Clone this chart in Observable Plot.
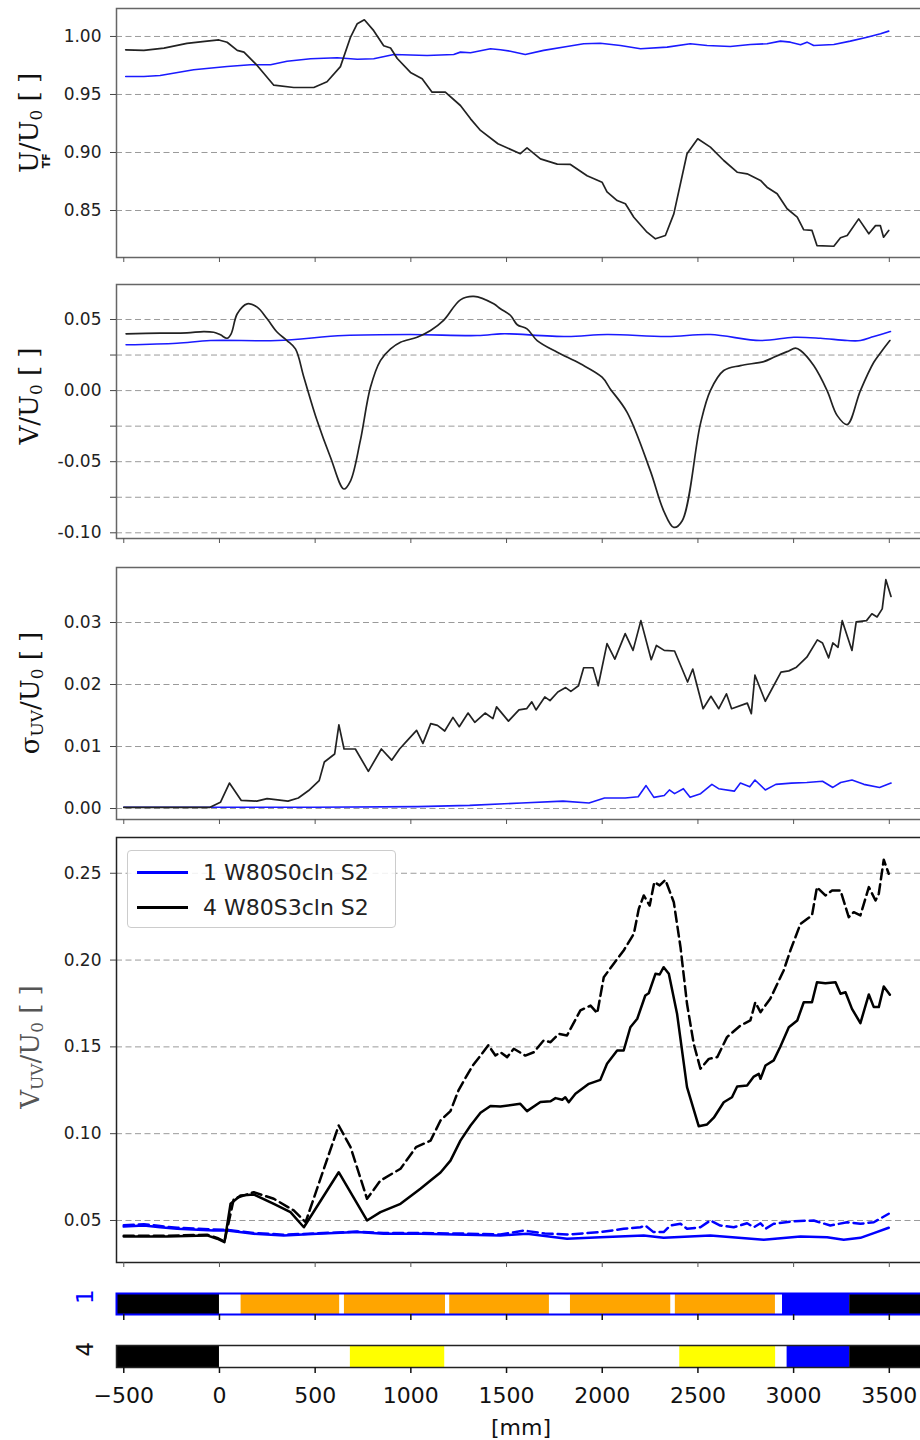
<!DOCTYPE html>
<html><head><meta charset="utf-8">
<script src="https://cdn.jsdelivr.net/npm/d3@7"></script>
<script src="https://cdn.jsdelivr.net/npm/@observablehq/plot@0.6"></script>
<style>
body{margin:0;background:#fff;}
#wrap{position:relative;width:920px;height:1440px;overflow:hidden;font-family:"DejaVu Sans",sans-serif;background:#fff;}
#wrap svg{position:absolute;left:0;max-width:none !important;}
.ylab{position:absolute;transform:translate(-50%,-50%) rotate(-90deg);white-space:nowrap;font-family:"DejaVu Serif",serif;font-size:26px;line-height:26px;color:#111;z-index:2;}
.ylab sub{font-size:0.65em;vertical-align:-0.22em;line-height:0;}
.tf{display:inline-block;width:0;position:relative;left:-17px;top:12px;font-family:"DejaVu Sans",sans-serif;font-weight:bold;font-size:11px;line-height:11px;}
.legend{position:absolute;left:127px;top:850px;width:269px;height:78px;border:1px solid #ccc;border-radius:4px;background:rgba(255,255,255,0.85);box-sizing:border-box;z-index:3;}
.legend .sw{position:absolute;left:9px;width:51px;height:3px;}
.legend .tx{position:absolute;left:75px;font-family:"DejaVu Sans",sans-serif;font-size:22px;line-height:22px;color:#222;white-space:nowrap;}
.mm{position:absolute;left:521px;top:1427px;transform:translate(-50%,-50%);font-family:"DejaVu Sans",sans-serif;font-size:22px;color:#111;}
</style></head>
<body><div id="wrap"></div>
<script>
// ---------- data ----------
const xTicks = [-500,0,500,1000,1500,2000,2500,3000,3500];

// Panel 1: U/U0
const uBlue = [[-490,0.9655],[-395,0.9655],[-310,0.9664],[-135,0.9713],[40,0.9741],[162,0.9756],[267,0.9756],[353,0.9787],[476,0.9808],[615,0.9816],[720,0.9804],[806,0.9808],[911,0.9845],[1085,0.9836],[1224,0.9845],[1259,0.9865],[1312,0.986],[1416,0.9894],[1468,0.9885],[1520,0.9873],[1598,0.9845],[1694,0.988],[1816,0.9914],[1903,0.9937],[1990,0.9942],[2095,0.9922],[2200,0.9894],[2339,0.9908],[2460,0.9937],[2548,0.9922],[2669,0.9914],[2774,0.9931],[2861,0.9937],[2931,0.996],[2983,0.9951],[3036,0.9928],[3070,0.9951],[3105,0.9922],[3210,0.9931],[3296,0.996],[3384,0.9994],[3454,1.0023],[3497,1.0046]];
const uBlack = [[-490,0.9885],[-395,0.988],[-290,0.990],[-170,0.994],[-65,0.996],[-3,0.997],[40,0.995],[93,0.988],[128,0.9865],[197,0.975],[284,0.958],[388,0.956],[493,0.956],[562,0.961],[632,0.974],[685,0.9995],[720,1.011],[757,1.0144],[806,1.005],[858,0.992],[894,0.990],[929,0.981],[998,0.969],[1059,0.9635],[1111,0.952],[1180,0.952],[1259,0.9405],[1312,0.929],[1364,0.919],[1455,0.9075],[1572,0.899],[1607,0.904],[1677,0.8945],[1765,0.890],[1834,0.8897],[1921,0.880],[1999,0.8744],[2025,0.866],[2078,0.8586],[2121,0.8558],[2165,0.8442],[2234,0.8313],[2278,0.8256],[2330,0.8285],[2374,0.8471],[2443,0.8989],[2499,0.9118],[2565,0.9046],[2635,0.8931],[2705,0.883],[2757,0.8816],[2827,0.8759],[2861,0.8701],[2914,0.8644],[2966,0.8515],[3019,0.8443],[3053,0.8334],[3096,0.8328],[3122,0.8198],[3210,0.8192],[3245,0.8265],[3280,0.8285],[3340,0.8428],[3393,0.8299],[3428,0.837],[3453,0.837],[3470,0.827],[3497,0.8328]];
const uTicks = [0.85,0.90,0.95,1.00];

// Panel 2: V/U0
const vBlue = [[-488,0.0322],[-222,0.0333],[-47,0.0352],[302,0.0352],[650,0.0387],[998,0.0394],[1347,0.0387],[1468,0.0399],[1520,0.0399],[1816,0.038],[2025,0.0394],[2339,0.038],[2565,0.0394],[2827,0.0352],[3001,0.0375],[3140,0.0368],[3280,0.0352],[3349,0.0352],[3419,0.038],[3506,0.0415]];
const vBlack = [[-488,0.0399],[-310,0.0404],[-170,0.0406],[-82,0.0415],[-30,0.041],[5,0.0392],[40,0.0368],[61,0.0399],[93,0.054],[145,0.061],[197,0.0587],[249,0.0505],[302,0.041],[353,0.0352],[397,0.0293],[441,0.0094],[510,-0.0211],[580,-0.0469],[650,-0.0692],[685,-0.0634],[736,-0.0352],[789,0.0023],[841,0.0211],[894,0.0293],[946,0.034],[1033,0.0375],[1103,0.0422],[1171,0.0493],[1259,0.0638],[1329,0.0662],[1433,0.061],[1468,0.0575],[1521,0.0528],[1556,0.0463],[1607,0.0434],[1660,0.0352],[1765,0.027],[1886,0.0188],[1999,0.0094],[2042,0.0012],[2130,-0.0153],[2251,-0.0563],[2321,-0.0845],[2374,-0.0962],[2418,-0.0915],[2513,-0.0234],[2565,0.0],[2635,0.0141],[2722,0.0176],[2844,0.0204],[2896,0.0234],[2966,0.0274],[3010,0.0298],[3036,0.0282],[3105,0.0176],[3175,0.0],[3228,-0.0176],[3280,-0.0239],[3349,0.0],[3419,0.0199],[3463,0.0282],[3503,0.0352]];
const vTicks = [-0.10,-0.075,-0.05,-0.025,0,0.025,0.05];

// Panel 3: sigma_UV/U0
const sBlue = [[-500,0.0002],[493,0.0002],[1036,0.0003],[1307,0.0005],[1578,0.0009],[1795,0.0012],[1931,0.0009],[2012,0.0017],[2120,0.0017],[2188,0.0019],[2229,0.0037],[2270,0.0018],[2324,0.0021],[2351,0.003],[2378,0.0024],[2424,0.0032],[2459,0.0018],[2514,0.0024],[2573,0.0039],[2608,0.0032],[2690,0.0028],[2722,0.0041],[2771,0.0035],[2798,0.0046],[2852,0.003],[2907,0.0039],[2988,0.0041],[3069,0.0042],[3151,0.0044],[3205,0.0034],[3246,0.0042],[3305,0.0046],[3367,0.0039],[3449,0.0034],[3509,0.0041]];
const sBlack = [[-500,0.0002],[-49,0.0002],[5,0.001],[52,0.0041],[114,0.0013],[195,0.0012],[249,0.0016],[304,0.0014],[358,0.0012],[412,0.0017],[466,0.0029],[521,0.0045],[548,0.0075],[602,0.0088],[624,0.0135],[651,0.0096],[710,0.0096],[778,0.006],[846,0.0096],[900,0.0078],[941,0.0096],[982,0.011],[1030,0.0126],[1063,0.0105],[1104,0.0137],[1139,0.0134],[1177,0.0125],[1220,0.0147],[1253,0.0132],[1299,0.0154],[1334,0.0139],[1388,0.0154],[1429,0.0145],[1448,0.0164],[1510,0.0141],[1565,0.0159],[1605,0.0161],[1632,0.0172],[1654,0.0159],[1700,0.018],[1727,0.0174],[1768,0.0188],[1809,0.0195],[1836,0.0189],[1876,0.0198],[1903,0.0227],[1952,0.0227],[1979,0.0198],[2025,0.0266],[2066,0.0241],[2120,0.0282],[2161,0.0255],[2202,0.0303],[2256,0.024],[2283,0.0263],[2324,0.0255],[2378,0.0254],[2446,0.0204],[2473,0.0225],[2527,0.0161],[2568,0.0181],[2609,0.0161],[2649,0.0185],[2676,0.0161],[2758,0.017],[2779,0.0153],[2798,0.0215],[2852,0.0173],[2934,0.022],[2975,0.0222],[3015,0.0228],[3069,0.0244],[3124,0.0272],[3151,0.0267],[3183,0.0243],[3205,0.0267],[3232,0.026],[3254,0.0303],[3305,0.0255],[3327,0.0301],[3381,0.0303],[3409,0.0314],[3436,0.0309],[3463,0.0322],[3482,0.0369],[3509,0.0342]];
const sTicks = [0,0.01,0.02,0.03];

// Panel 4: V_UV/U0 (solid and dashed)
const wBlueSolid = [[-500,0.0465],[-395,0.0471],[-310,0.0461],[-221,0.0452],[-30,0.0442],[40,0.0442],[179,0.0423],[336,0.0414],[511,0.0423],[720,0.0433],[858,0.0423],[1050,0.0423],[1468,0.0414],[1607,0.0423],[1816,0.0395],[1990,0.0404],[2217,0.0414],[2321,0.040],[2565,0.0414],[2844,0.0389],[3036,0.0408],[3175,0.0404],[3262,0.0389],[3349,0.040],[3419,0.0427],[3497,0.0458]];
const wBlueDash = [[-500,0.0472],[-395,0.0478],[-310,0.0468],[-221,0.0458],[-30,0.0448],[40,0.0446],[179,0.0428],[336,0.0418],[511,0.0426],[720,0.0436],[858,0.0428],[1050,0.0428],[1300,0.0424],[1468,0.0419],[1590,0.0442],[1700,0.0425],[1816,0.0419],[1990,0.0433],[2112,0.0452],[2200,0.0461],[2225,0.0471],[2268,0.0433],[2321,0.0433],[2356,0.0471],[2409,0.0481],[2443,0.0452],[2513,0.0461],[2565,0.050],[2617,0.0471],[2687,0.0461],[2757,0.0484],[2792,0.0461],[2827,0.0484],[2853,0.0452],[2896,0.0481],[3001,0.0496],[3105,0.050],[3192,0.0471],[3280,0.049],[3349,0.0481],[3419,0.049],[3497,0.0539]];
const wBlackSolid = [[-500,0.0408],[-274,0.0408],[-65,0.0414],[-12,0.0395],[26,0.0375],[58,0.0596],[110,0.0644],[179,0.065],[284,0.0596],[371,0.0548],[441,0.0461],[623,0.0778],[771,0.050],[841,0.0548],[946,0.0596],[1050,0.0683],[1103,0.073],[1155,0.0776],[1207,0.0845],[1259,0.096],[1312,0.1047],[1364,0.112],[1416,0.116],[1468,0.1157],[1572,0.1172],[1607,0.113],[1677,0.1182],[1730,0.1187],[1756,0.1205],[1791,0.1195],[1807,0.121],[1825,0.1181],[1860,0.123],[1930,0.1287],[1990,0.131],[2025,0.1403],[2078,0.1479],[2112,0.1479],[2147,0.1613],[2183,0.1662],[2225,0.1796],[2243,0.1809],[2278,0.1921],[2300,0.1917],[2321,0.1959],[2348,0.1921],[2391,0.1691],[2443,0.1268],[2504,0.1043],[2548,0.1053],[2583,0.1092],[2635,0.1181],[2678,0.121],[2705,0.1272],[2757,0.1278],[2792,0.1329],[2818,0.1345],[2827,0.1316],[2853,0.1393],[2896,0.1422],[2931,0.1502],[2975,0.1613],[3019,0.1652],[3053,0.1757],[3096,0.1757],[3122,0.1872],[3166,0.1867],[3219,0.1872],[3245,0.1806],[3271,0.1815],[3305,0.1719],[3349,0.1637],[3393,0.1802],[3419,0.1729],[3445,0.1729],[3471,0.1848],[3503,0.18]];
const wBlackDash = [[-500,0.0412],[-274,0.0412],[-65,0.0418],[-12,0.040],[26,0.0378],[75,0.0625],[179,0.0663],[284,0.0625],[388,0.0558],[450,0.049],[623,0.1047],[685,0.0922],[771,0.0625],[841,0.073],[946,0.0798],[1027,0.0922],[1103,0.096],[1155,0.1076],[1207,0.113],[1249,0.125],[1285,0.132],[1322,0.139],[1364,0.145],[1405,0.151],[1442,0.145],[1468,0.1469],[1503,0.1441],[1538,0.1489],[1598,0.145],[1642,0.1469],[1694,0.1537],[1730,0.1527],[1773,0.1575],[1816,0.1566],[1886,0.171],[1939,0.1738],[1974,0.1694],[2008,0.1901],[2060,0.1979],[2112,0.2055],[2165,0.2151],[2191,0.2295],[2217,0.2372],[2248,0.2314],[2272,0.2449],[2300,0.243],[2330,0.2462],[2374,0.2333],[2409,0.2074],[2443,0.1748],[2478,0.1518],[2513,0.1374],[2557,0.1431],[2601,0.1441],[2652,0.1556],[2722,0.1623],[2774,0.1652],[2800,0.1757],[2827,0.17],[2878,0.1777],[2948,0.194],[2983,0.2055],[3036,0.2209],[3096,0.2257],[3122,0.242],[3166,0.2372],[3201,0.2401],[3245,0.2401],[3288,0.2247],[3314,0.2276],[3349,0.2257],[3393,0.242],[3428,0.2343],[3445,0.2382],[3471,0.2578],[3497,0.2497]];
const wTicks = [0.05,0.10,0.15,0.20,0.25];

// Condition bars
const bar1Start = [-538,113,653,1203,1834,2382,2942,3293];
const bar1End   = [0,628,1181,1724,2358,2905,3293,3900];
const bar1Color = ["black","orange","orange","orange","orange","orange","blue","black"];
const bar4Start = [-538,684,2405,2966,3293];
const bar4End   = [0,1177,2906,3293,3900];
const bar4Color = ["black","yellow","yellow","blue","black"];

const seriesNames = ["1 W80S0cln S2","4 W80S3cln S2"];

// ---------- drawing ----------
const wrap = document.getElementById("wrap");
const xDomain = [-538, 3872];
const P = d => d[0], Q = d => d[1];

function place(svg, top){
  svg.style.position="absolute"; svg.style.top=top+"px"; svg.style.left="0px";
  svg.style.maxWidth="none"; svg.style.width="960px";
  wrap.appendChild(svg);
}

function panel(o){
  const svg = Plot.plot({
    width:960, height:o.height, marginLeft:116, marginRight:0, marginTop:o.mt, marginBottom:o.mb,
    style:{fontFamily:"DejaVu Sans", fontSize:"17px", background:"transparent", overflow:"visible", maxWidth:"none"},
    x:{domain:xDomain},
    y:{domain:o.yDomain},
    marks:[
      Plot.gridY({ticks:o.yTicks, stroke:"#9a9a9a", strokeOpacity:1, strokeWidth:1, strokeDasharray:"6,3.5"}),
      ...o.lines,
      Plot.frame({stroke:o.frame, strokeWidth:1.5}),
      Plot.axisY({ticks:o.yTicks, tickSize:6, tickPadding:9, tickFormat:o.fmt, fontSize:17, fill:"#222", stroke:"#444", label:null}),
      Plot.axisX({ticks:xTicks, tickSize:5, tickFormat:()=>"", stroke:"#555", label:null})
    ]
  });
  place(svg, o.top);
}
const f2 = d => d.toFixed(2);

panel({top:0, height:270, mt:8, mb:13, yDomain:[0.8095,1.0241], yTicks:uTicks, fmt:f2, frame:"#666",
  lines:[
    Plot.line(uBlue,{x:P,y:Q,stroke:"#1a1aff",strokeWidth:1.6}),
    Plot.line(uBlack,{x:P,y:Q,stroke:"#222",strokeWidth:1.7})
  ]});
panel({top:270, height:280, mt:14, mb:12, yDomain:[-0.104,0.0746], yTicks:vTicks,
  fmt:d => (Math.round(Math.abs(d)*1000) % 50 === 0 ? d.toFixed(2) : ""), frame:"#666",
  lines:[
    Plot.line(vBlue,{x:P,y:Q,stroke:"#1a1aff",strokeWidth:1.6,curve:"catmull-rom"}),
    Plot.line(vBlack,{x:P,y:Q,stroke:"#222",strokeWidth:1.7,curve:"catmull-rom"})
  ]});
panel({top:555, height:275, mt:12, mb:11, yDomain:[-0.00177,0.03887], yTicks:sTicks, fmt:f2, frame:"#666",
  lines:[
    Plot.line(sBlue,{x:P,y:Q,stroke:"#1a1aff",strokeWidth:1.6}),
    Plot.line(sBlack,{x:P,y:Q,stroke:"#222",strokeWidth:1.7})
  ]});
panel({top:830, height:445, mt:7, mb:13, yDomain:[0.0258,0.2706], yTicks:wTicks, fmt:f2, frame:"#222",
  lines:[
    Plot.line(wBlueDash,{x:P,y:Q,stroke:"blue",strokeWidth:2.5,strokeDasharray:"10,5"}),
    Plot.line(wBlueSolid,{x:P,y:Q,stroke:"blue",strokeWidth:2.5}),
    Plot.line(wBlackDash,{x:P,y:Q,stroke:"black",strokeWidth:2.5,strokeDasharray:"10,5"}),
    Plot.line(wBlackSolid,{x:P,y:Q,stroke:"black",strokeWidth:2.5})
  ]});

function bar(o){
  const segs = o.start.map((s,i)=>({x1:s,x2:o.end[i],c:o.color[i]}));
  const svg = Plot.plot({
    width:960, height:o.height, marginLeft:116, marginRight:0, marginTop:o.mt, marginBottom:o.mb,
    style:{fontFamily:"DejaVu Sans", fontSize:"22px", background:"transparent", overflow:"visible", maxWidth:"none"},
    x:{domain:xDomain},
    marks:[
      Plot.barX(segs,{x1:"x1",x2:"x2",fill:"c",clip:true}),
      Plot.frame({stroke:o.frame, strokeWidth:o.fw}),
      Plot.axisX({ticks:xTicks, tickSize:6, tickPadding:14, strokeWidth:1.5, stroke:"#111", fill:"#111", fontSize:22,
        tickFormat:o.labels ? d3.format("d") : ()=>"", label:null}),
      Plot.text([o.name],{text:d=>d, frameAnchor:"left", dx:-31, rotate:-90, fill:o.nameColor, fontSize:23, fontFamily:"DejaVu Sans"})
    ]
  });
  place(svg, o.top);
}
bar({top:1280, height:45, mt:13, mb:11, start:bar1Start, end:bar1End, color:bar1Color, frame:"blue", fw:2, labels:false, name:"1", nameColor:"blue"});
bar({top:1335, height:105, mt:10, mb:73, start:bar4Start, end:bar4End, color:bar4Color, frame:"#222", fw:1.5, labels:true, name:"4", nameColor:"#111"});

// ---------- HTML labels and legend ----------
function addHTML(html){ wrap.insertAdjacentHTML("beforeend", html); }
addHTML('<div class="ylab" style="left:29px;top:123px">U<span class="tf">TF</span>/U<sub>0</sub> [ ]</div>');
addHTML('<div class="ylab" style="left:29px;top:396px">V/U<sub>0</sub> [ ]</div>');
addHTML('<div class="ylab" style="left:30px;top:693px">σ<sub>UV</sub>/U<sub>0</sub> [ ]</div>');
addHTML('<div class="ylab" style="left:30px;top:1047px;color:#555">V<sub>UV</sub>/U<sub>0</sub> [ ]</div>');
addHTML('<div class="legend">' +
  '<div class="sw" style="top:20px;background:blue"></div><div class="tx" style="top:11px">'+seriesNames[0]+'</div>' +
  '<div class="sw" style="top:55px;background:black"></div><div class="tx" style="top:46px">'+seriesNames[1]+'</div>' +
  '</div>');
addHTML('<div class="mm">[mm]</div>');
</script>
</body></html>
